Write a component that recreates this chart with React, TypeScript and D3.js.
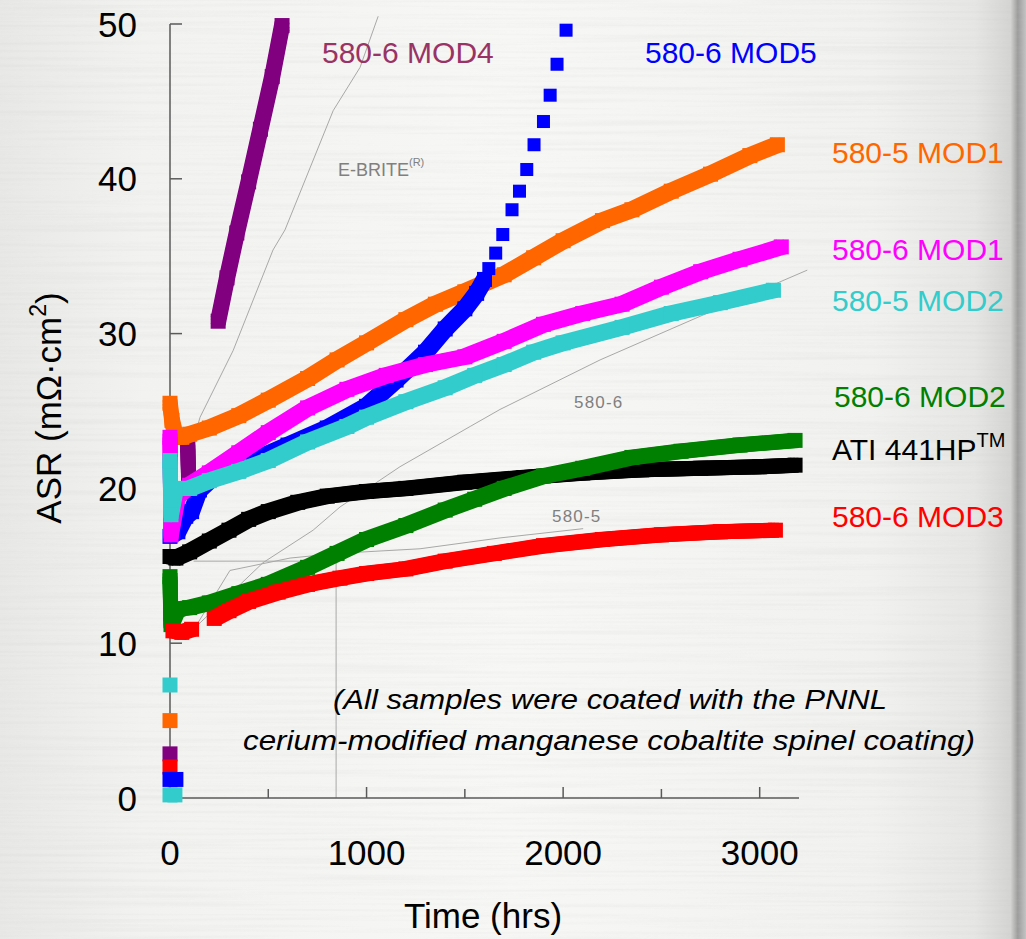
import React from 'react';
import * as d3 from 'd3';

const W = 1026;
const H = 939;

// Axis ticks
const xMajorTicks = [0, 1000, 2000, 3000];
const xMinorTicks = [500, 1500, 2500];
const yTicks = [0, 10, 20, 30, 40, 50];

// ASR readings, [hours, mOhm·cm²]
const mod1_580_5: [number, number][] = [
  [0, 25.5], [10, 24.4], [30, 23.3], [60, 23.3], [100, 23.5], [200, 23.9], [350, 24.7],
  [500, 25.7], [700, 27.1], [850, 28.3], [1000, 29.4], [1200, 30.9], [1350, 31.9],
  [1500, 32.7], [1700, 33.8], [1850, 34.9], [2000, 36.0], [2200, 37.3], [2350, 38.0],
  [2550, 39.2], [2750, 40.3], [2950, 41.5], [3090, 42.2],
];
const mod1_580_6: [number, number][] = [
  [0, 23.3], [5, 17.0], [40, 19.5], [100, 20.2], [200, 21.0], [350, 22.3], [500, 23.6],
  [700, 25.2], [900, 26.4], [1100, 27.3], [1300, 28.0], [1500, 28.5], [1700, 29.5],
  [1900, 30.6], [2100, 31.3], [2300, 31.9], [2500, 33.0], [2700, 34.0], [2900, 34.8],
  [3110, 35.6],
];
const mod2_580_5: [number, number][] = [
  [0, 21.8], [5, 18.3], [30, 20.0], [100, 20.0], [200, 20.5], [350, 21.1], [500, 21.8],
  [700, 23.0], [900, 24.0], [1000, 24.6], [1200, 25.6], [1400, 26.5], [1550, 27.3],
  [1700, 28.0], [1850, 28.8], [2000, 29.4], [2300, 30.4], [2550, 31.3], [2800, 32.0],
  [3070, 32.8],
];
const mod2_580_5_start: [number, number][] = [[0, 7.3], [0, 0.2], [25, 0.2]];
const mod1_580_5_start: [number, number][] = [[0, 5.0]];

const mod4_580_6_early: [number, number][] = [[90, 22.8], [95, 20.6]];
const mod4_580_6: [number, number][] = [
  [245, 30.8], [290, 33.6], [340, 36.5], [400, 39.8], [460, 43.2], [520, 46.6], [570, 49.9],
];
const mod4_580_6_start: [number, number][] = [[0, 2.85]];

const mod5_580_6: [number, number][] = [
  [0, 16.9], [40, 17.2], [80, 18.2], [110, 18.5], [150, 19.9], [250, 21.1], [400, 21.7],
  [600, 22.8], [800, 23.9], [1000, 25.3], [1150, 27.0], [1300, 28.8], [1400, 30.3],
  [1500, 31.6], [1560, 32.6], [1600, 33.5],
];
const mod5_580_6_sparse: [number, number][] = [
  [1622, 34.2], [1657, 35.2], [1693, 36.4], [1740, 38.0], [1778, 39.2], [1815, 40.6],
  [1852, 42.2], [1900, 43.7], [1934, 45.4], [1969, 47.4], [2015, 49.6],
];
const mod5_580_6_start: [number, number][] = [[0, 1.2], [30, 1.2]];

const ati441hp: [number, number][] = [
  [0, 15.6], [30, 15.5], [100, 15.9], [200, 16.6], [300, 17.3], [400, 18.0], [500, 18.5],
  [650, 19.1], [800, 19.5], [1000, 19.8], [1200, 20.0], [1500, 20.4], [1800, 20.7],
  [2100, 21.0], [2400, 21.2], [2700, 21.3], [3000, 21.4], [3180, 21.5],
];
const mod2_580_6: [number, number][] = [
  [0, 14.3], [5, 11.2], [40, 12.2], [100, 12.3], [200, 12.6], [350, 13.2], [500, 13.8],
  [700, 14.9], [850, 15.8], [1000, 16.7], [1200, 17.6], [1400, 18.6], [1550, 19.3],
  [1700, 20.0], [1900, 20.8], [2100, 21.3], [2350, 22.0], [2600, 22.4], [2900, 22.8],
  [3180, 23.1],
];
const mod3_580_6_early: [number, number][] = [[15, 10.8], [60, 10.7], [110, 10.9]];
const mod3_580_6: [number, number][] = [
  [225, 11.6], [300, 12.1], [400, 12.7], [550, 13.3], [700, 13.8], [865, 14.2],
  [1000, 14.5], [1200, 14.8], [1400, 15.3], [1650, 15.8], [1900, 16.3], [2200, 16.7],
  [2500, 17.0], [2800, 17.2], [3080, 17.3],
];
const mod3_580_6_start: [number, number][] = [[0, 2.0]];

// Reference alloys (thin grey traces)
const eBrite: [number, number][] = [
  [76, 21.2], [153, 24.6], [321, 28.9], [524, 35.4], [585, 36.7], [830, 44.4],
  [967, 47.2], [1059, 50.5],
];
const ref580_6: [number, number][] = [
  [127, 11.0], [473, 15.2], [728, 17.3], [865, 18.8], [1170, 21.4], [1527, 24.0],
  [1679, 25.1], [2188, 28.3], [2748, 31.4], [3242, 34.1],
];
const ref580_5: [number, number][] = [
  [127, 11.0], [305, 14.7], [611, 15.5], [850, 15.8], [1272, 16.1], [1679, 16.8],
  [2102, 17.4],
];
const ref580_5_guideH: [number, number][] = [[120, 15.3], [845, 15.3]];
const ref580_5_guideV: [number, number][] = [[845, 0], [845, 15.3]];

const FONT = "'Liberation Sans', Arial, Helvetica, sans-serif";

const C = {
  orange: '#ff6600',
  magenta: '#ff00ff',
  cyan: '#33cccc',
  purple: '#800080',
  purpleLabel: '#993366',
  blue: '#0000ff',
  black: '#000000',
  green: '#008000',
  red: '#ff0000',
  grey: '#a8a8a8',
};

// Offsets used to sweep a small square marker along each trace
const SWEEP = [
  [-3.5, -3.5],
  [3.5, -3.5],
  [-3.5, 3.5],
  [3.5, 3.5],
];

export default function App() {
  const x = d3.scaleLinear().domain([0, 3200]).range([170, 799]);
  const y = d3.scaleLinear().domain([0, 50]).range([798, 24]);
  const line = d3
    .line<[number, number]>()
    .x((d) => x(d[0]))
    .y((d) => y(d[1]));

  const mk = 15;

  const squares = (data: [number, number][], color: string, size = mk) =>
    data.map((d, i) => (
      <rect
        key={i}
        x={x(d[0]) - size / 2}
        y={y(d[1]) - size / 2}
        width={size}
        height={size}
        fill={color}
      />
    ));

  // Dense marker trace: a square swept along the readings, plus a square at each reading
  const band = (data: [number, number][], color: string) => {
    const d = line(data) || '';
    return (
      <g>
        {SWEEP.map(([dx, dy], i) => (
          <path
            key={i}
            d={d}
            transform={`translate(${dx},${dy})`}
            fill="none"
            stroke={color}
            strokeWidth={8}
            strokeLinejoin="miter"
            strokeLinecap="butt"
          />
        ))}
        <path d={d} fill="none" stroke={color} strokeWidth={15} strokeLinejoin="round" />
        {squares(data, color)}
      </g>
    );
  };
  const thin = (data: [number, number][]) => (
    <path d={line(data) || ''} fill="none" stroke={C.grey} strokeWidth={1} />
  );

  return (
    <svg
      width={W}
      height={H}
      viewBox={`0 0 ${W} ${H}`}
      style={{ position: 'absolute', left: 0, top: 0, display: 'block' }}
      fontFamily={FONT}
    >
      <defs>
        <linearGradient id="bg" x1="0" y1="0" x2="1" y2="0">
          <stop offset="0" stopColor="#e8e8e6" />
          <stop offset="0.14" stopColor="#f2f2f0" />
          <stop offset="0.5" stopColor="#f7f7f5" />
          <stop offset="0.85" stopColor="#f1f1ef" />
          <stop offset="0.95" stopColor="#e6e6e4" />
          <stop offset="0.985" stopColor="#d4d4d2" />
          <stop offset="0.992" stopColor="#9c9c9c" />
          <stop offset="1" stopColor="#c4c4c4" />
        </linearGradient>
        <filter id="brushed" x="0" y="0" width="100%" height="100%">
          <feTurbulence type="fractalNoise" baseFrequency="0.004 0.28" numOctaves={2} seed={7} />
          <feColorMatrix
            type="matrix"
            values="0 0 0 0 0.55  0 0 0 0 0.55  0 0 0 0 0.55  1.6 0 0 0 -0.7"
          />
        </filter>
      </defs>

      <rect x={0} y={0} width={W} height={H} fill="url(#bg)" />
      <rect x={0} y={0} width={W} height={H} filter="url(#brushed)" opacity={0.22} />

      {/* reference alloys */}
      <g>
        {thin(eBrite)}
        {thin(ref580_6)}
        {thin(ref580_5)}
        {thin(ref580_5_guideH)}
        {thin(ref580_5_guideV)}
      </g>
      <g fill="#808080">
        <text x={338} y={176} fontSize={18}>
          E-BRITE
          <tspan fontSize={11} dy={-10}>(R)</tspan>
        </text>
        <text x={574} y={408} fontSize={17} letterSpacing={1.2}>580-6</text>
        <text x={552} y={522} fontSize={17} letterSpacing={1.2}>580-5</text>
      </g>

      {/* axes */}
      <g stroke="#5a5a5a" strokeWidth={1.5}>
        <line x1={x(0)} x2={x(0)} y1={y(0)} y2={y(50)} />
        <line x1={x(0)} x2={x(3200)} y1={y(0)} y2={y(0)} />
        {yTicks.map((t) => (
          <line key={t} x1={x(0)} x2={x(0) + 12} y1={y(t)} y2={y(t)} />
        ))}
        {xMajorTicks.map((t) => (
          <line key={t} x1={x(t)} x2={x(t)} y1={y(0)} y2={y(0) - 11} />
        ))}
        {xMinorTicks.map((t) => (
          <line key={t} x1={x(t)} x2={x(t)} y1={y(0)} y2={y(0) - 9} />
        ))}
      </g>

      {/* series */}
      <g>
        {band(mod4_580_6_early, C.purple)}
        {band(mod4_580_6, C.purple)}
        {squares(mod4_580_6_start, C.purple)}
        {band(mod1_580_5, C.orange)}
        {squares(mod1_580_5_start, C.orange)}
        {squares(mod3_580_6_start, C.red)}
        {band(mod5_580_6, C.blue)}
        {squares(mod5_580_6_sparse, C.blue, 13)}
        {squares(mod5_580_6_start, C.blue)}
        {band(mod1_580_6, C.magenta)}
        {band(mod2_580_5, C.cyan)}
        {squares(mod2_580_5_start, C.cyan)}
        {band(ati441hp, C.black)}
        {band(mod2_580_6, C.green)}
        {band(mod3_580_6_early, C.red)}
        {band(mod3_580_6, C.red)}
      </g>

      {/* tick labels */}
      <g fontSize={35} fill="#000">
        {yTicks.map((t) => (
          <text key={t} x={137} y={y(t) + 12.5} textAnchor="end">
            {t}
          </text>
        ))}
        {xMajorTicks.map((t) => (
          <text key={t} x={x(t)} y={865} textAnchor="middle">
            {t}
          </text>
        ))}
      </g>

      {/* axis titles */}
      <text x={483} y={928} fontSize={35} textAnchor="middle" fill="#000">
        Time (hrs)
      </text>
      <text
        transform="translate(61,408) rotate(-90)"
        fontSize={35}
        textAnchor="middle"
        fill="#000"
      >
        ASR (mΩ·cm
        <tspan fontSize={23} dy={-15}>2</tspan>
        <tspan dy={15}>)</tspan>
      </text>

      {/* series labels */}
      <g fontSize={30}>
        <text x={322} y={63} fill={C.purpleLabel}>580-6 MOD4</text>
        <text x={645} y={63} fill={C.blue}>580-6 MOD5</text>
        <text x={832} y={163} fill={C.orange}>580-5 MOD1</text>
        <text x={832} y={260} fill={C.magenta}>580-6 MOD1</text>
        <text x={832} y={311} fill={C.cyan}>580-5 MOD2</text>
        <text x={834} y={407} fill={C.green}>580-6 MOD2</text>
        <text x={832} y={460} fill={C.black}>
          ATI 441HP
          <tspan fontSize={20} dy={-13}>TM</tspan>
        </text>
        <text x={832} y={527} fill={C.red}>580-6 MOD3</text>
      </g>

      {/* note */}
      <g fontSize={27} fontStyle="italic" fill="#000">
        <text x={333} y={709} textLength={554} lengthAdjust="spacingAndGlyphs">
          (All samples were coated with the PNNL
        </text>
        <text x={243} y={750} textLength={732} lengthAdjust="spacingAndGlyphs">
          cerium-modified manganese cobaltite spinel coating)
        </text>
      </g>
    </svg>
  );
}
